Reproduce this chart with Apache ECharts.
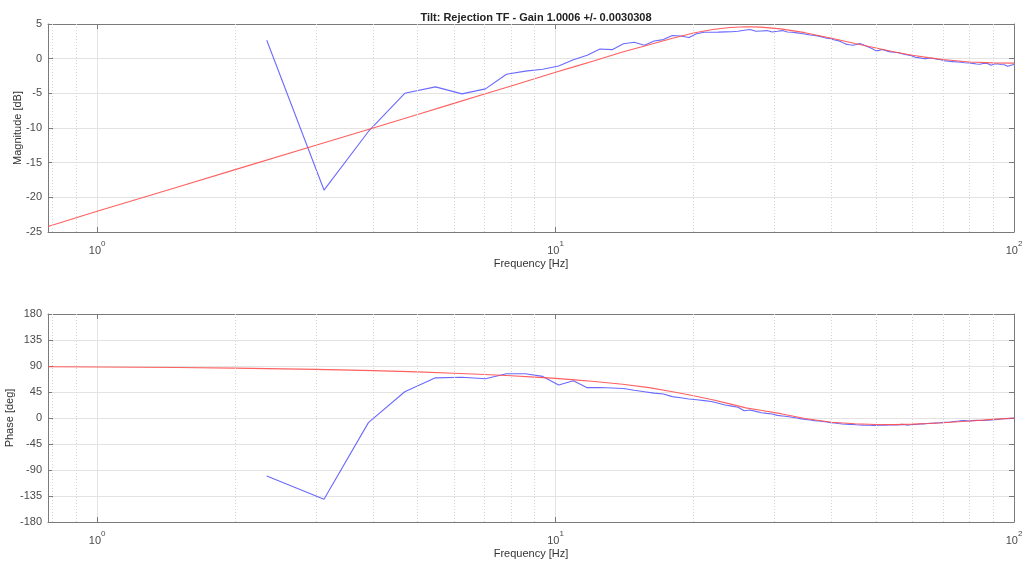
<!DOCTYPE html>
<html>
<head>
<meta charset="utf-8">
<script src="https://cdn.jsdelivr.net/npm/echarts@6/dist/echarts.min.js"></script>
<style>
  html, body { margin: 0; padding: 0; background: #fff; }
  #chart { width: 1025px; height: 562px; }
</style>
</head>
<body>
<div id="chart"></div>
<script>
// measured TF (blue), frequency bins in Hz
const measFreq = [
  2.344, 3.125, 3.906, 4.688, 5.469, 6.25, 7.031, 7.813, 8.594, 9.375,
  10.156, 10.938, 11.719, 12.5, 13.281, 14.063, 14.844, 15.625, 16.406, 17.188,
  17.969, 18.75, 19.531, 20.313, 21.094, 21.875, 22.656, 23.438, 24.219, 25.0,
  25.781, 26.563, 27.344, 28.125, 28.906, 29.688, 30.469, 31.25, 32.031, 32.813,
  33.594, 34.375, 35.156, 35.938, 36.719, 37.5, 38.281, 39.063, 39.844, 40.625,
  41.406, 42.188, 42.969, 43.75, 44.531, 45.313, 46.094, 46.875, 47.656, 48.438,
  49.219, 50.0, 50.781, 51.563, 52.344, 53.125, 53.906, 54.688, 55.469, 56.25,
  57.031, 57.813, 58.594, 59.375, 60.156, 60.938, 61.719, 62.5, 63.281, 64.063,
  64.844, 65.625, 66.406, 67.188, 67.969, 68.75, 69.531, 70.313, 71.094, 71.875,
  72.656, 73.438, 74.219, 75.0, 75.781, 76.563, 77.344, 78.125, 78.906, 79.688,
  80.469, 81.25, 82.031, 82.813, 83.594, 84.375, 85.156, 85.938, 86.719, 87.5,
  88.281, 89.063, 89.844, 90.625, 91.406, 92.188, 92.969, 93.75, 94.531, 95.313,
  96.094, 96.875, 97.656, 98.438, 99.219, 100.0
];
const measMag = [
  2.65, -18.95, -10.5, -5.0, -4.07, -5.08, -4.36, -2.25, -1.8, -1.52,
  -1.05, -0.15, 0.5, 1.4, 1.3, 2.15, 2.36, 1.93, 2.55, 2.75,
  3.35, 3.27, 3.05, 3.6, 3.8, 3.8, 3.83, 3.86, 3.88, 3.95,
  4.1, 4.2, 3.95, 4.0, 4.05, 3.85, 3.95, 4.05, 3.85, 3.8,
  3.72, 3.62, 3.52, 3.42, 3.35, 3.25, 3.1, 2.95, 2.88, 2.7,
  2.6, 2.35, 2.1, 2.0, 1.93, 2.05, 2.18, 2.0, 1.8, 1.6,
  1.4, 1.12, 1.2, 1.31, 1.2, 1.05, 0.97, 0.93, 0.88, 0.83,
  0.72, 0.6, 0.52, 0.48, 0.35, 0.2, 0.15, 0.1, 0.02, 0.0,
  0.03, 0.06, 0.05, -0.02, -0.08, -0.13, -0.2, -0.28, -0.33, -0.36,
  -0.4, -0.42, -0.44, -0.46, -0.47, -0.5, -0.55, -0.58, -0.6, -0.62,
  -0.63, -0.68, -0.72, -0.76, -0.8, -0.8, -0.72, -0.66, -0.62, -0.7,
  -0.85, -0.95, -0.88, -0.78, -0.75, -0.78, -0.82, -0.85, -0.85, -0.88,
  -0.98, -1.08, -1.05, -0.95, -0.88, -0.85
];
const measPhase = [
  -100.5, -140.5, -8, 45.5, 69.5, 70.5, 68, 76.5, 76.5, 72,
  57, 64.5, 52.5, 52.8, 52, 51, 48, 45.5, 43, 41.5,
  37, 35, 33, 31.5, 30, 28.5, 25.5, 22.5, 20.5, 18.5,
  12.5, 13.8, 11.5, 9.2, 8, 7, 4.5, 3.5, 2.5, 1.2,
  0, -1.5, -2.5, -3.5, -4.5, -5.2, -6, -7, -8, -8.5,
  -9.5, -10.3, -10.8, -11, -11.3, -11.8, -12, -12.3, -12.5, -12.6,
  -12.7, -12.7, -12.6, -12.5, -12.3, -12.2, -12.1, -12.1, -12, -11.5,
  -11, -11.8, -12.5, -11.8, -11.2, -11.2, -10.8, -10.5, -10.2, -10,
  -9.6, -9.2, -9, -8.8, -8.6, -8.2, -8, -7.6, -7.3, -7.4,
  -7, -6.5, -6, -5.6, -5.3, -4.8, -4.5, -4.6, -4.9, -5.2,
  -5, -4.6, -4.3, -4.1, -4, -4.2, -4.4, -4.3, -4, -3.6,
  -3.5, -3.3, -3, -2.8, -2.5, -2.3, -2.1, -1.8, -1.6, -1.4,
  -1.2, -1, -0.9, -0.7, -0.6, -0.5
];

// fitted model (red)
const modelFreq = [0.78125, 1, 1.5, 2, 3, 4, 5, 6, 7, 8, 9, 10, 11, 12, 14, 16, 18, 20, 22, 24,
  26, 28, 31, 35, 40, 45, 50, 55, 60, 65, 70, 80, 90, 100];
const modelMag = [-24.2, -22.0, -18.5, -16.0, -12.5, -10.0, -8.05, -6.45, -5.1, -3.95, -2.9, -1.95, -1.15, -0.4, 0.95, 2.0, 2.95, 3.7, 4.2, 4.5,
  4.6, 4.55, 4.3, 3.75, 2.95, 2.2, 1.55, 0.95, 0.5, 0.15, -0.13, -0.47, -0.6, -0.65];
const modelPhase = [88.8, 88.2, 87.3, 86.3, 84.2, 82.0, 79.8, 77.5, 75.2, 73.0, 70.8, 68.5, 66.0, 63.5, 58.5, 52.5, 45.5, 38.5, 31.5, 24.5,
  17.5, 13.5, 7.5, -1, -7.4, -10, -11.3, -11.5, -10.6, -9.5, -8.1, -5.2, -2.3, 0];

const minorTicks = [0.8, 0.9, 2, 3, 4, 5, 6, 7, 8, 9, 20, 30, 40, 50, 60, 70, 80, 90];

const FONT = 'Liberation Sans';
const AXIS_C = '#7a7a7a';
const GRID_C = '#e3e3e3';
const TXT_C = '#4a4a4a';

const pairs = (xs, ys) => xs.map((x, i) => [x, ys[i]]);

function logX(gi, pos, main) {
  return {
    type: 'log', logBase: 10, gridIndex: gi, position: pos,
    min: 0.78125, max: 100,
    name: main ? 'Frequency [Hz]' : '', nameLocation: 'middle', nameGap: 26,
    nameMoveOverlap: false,
    nameTextStyle: { color: '#333', fontSize: 11, fontFamily: FONT },
    axisLine: { show: true, onZero: false, lineStyle: { color: AXIS_C } },
    axisTick: { show: true, inside: true, length: 5, lineStyle: { color: AXIS_C } },
    splitLine: { show: main, lineStyle: { color: GRID_C } },
    axisLabel: {
      show: main, showMinLabel: false, margin: 8,
      color: TXT_C, fontFamily: FONT,
      formatter: v => {
        const e = Math.round(Math.log10(v));
        if (Math.abs(v / Math.pow(10, e) - 1) > 1e-6) return '';
        return '{b|10}{s|' + e + '}';
      },
      rich: {
        b: { fontSize: 11, color: TXT_C, fontFamily: FONT, lineHeight: 16, verticalAlign: 'bottom' },
        s: { fontSize: 8, color: TXT_C, fontFamily: FONT, lineHeight: 16, verticalAlign: 'top', padding: [0, 0, 6, 0] }
      }
    }
  };
}

function valY(gi, pos, main, min, max, step, name, gap) {
  return {
    type: 'value', gridIndex: gi, position: pos, min, max, interval: step,
    name: main ? name : '', nameLocation: 'middle', nameGap: gap,
    nameMoveOverlap: false,
    nameTextStyle: { color: '#333', fontSize: 11, fontFamily: FONT },
    axisLine: { show: true, lineStyle: { color: AXIS_C } },
    axisTick: { show: true, inside: true, length: 5, lineStyle: { color: AXIS_C } },
    splitLine: { show: main, lineStyle: { color: GRID_C } },
    axisLabel: { show: main, color: TXT_C, fontSize: 11, fontFamily: FONT, margin: 6 }
  };
}

function minorGrid() {
  return {
    silent: true, symbol: 'none', animation: false,
    label: { show: false },
    lineStyle: { color: '#d6d6d6', type: [1, 2], width: 1 },
    data: minorTicks.map(t => ({ xAxis: t }))
  };
}

function line(name, xi, yi, data, color, z, withGrid) {
  const s = {
    name, type: 'line', xAxisIndex: xi, yAxisIndex: yi, data,
    symbol: 'none', smooth: false, z,
    lineStyle: { color, width: 1.1, opacity: 0.9 }
  };
  if (withGrid) s.markLine = minorGrid();
  return s;
}

const chart = echarts.init(document.getElementById('chart'), null, { renderer: 'canvas' });
chart.setOption({
  animation: false,
  backgroundColor: '#fff',
  title: {
    text: 'Tilt: Rejection TF - Gain 1.0006 +/- 0.0030308',
    left: 531, top: 7, textAlign: 'center',
    textStyle: { fontSize: 11, fontWeight: 'bold', color: '#222', fontFamily: FONT }
  },
  grid: [
    { left: 48, right: 11, top: 24, height: 208, containLabel: false, outerBoundsMode: 'none' },
    { left: 48, right: 11, top: 314, height: 208, containLabel: false, outerBoundsMode: 'none' }
  ],
  xAxis: [logX(0, 'bottom', true), logX(0, 'top', false), logX(1, 'bottom', true), logX(1, 'top', false)],
  yAxis: [
    valY(0, 'left', true, -25, 5, 5, 'Magnitude [dB]', 25),
    valY(0, 'right', false, -25, 5, 5),
    valY(1, 'left', true, -180, 180, 45, 'Phase [deg]', 33),
    valY(1, 'right', false, -180, 180, 45)
  ],
  series: [
    line('meas mag', 0, 0, pairs(measFreq, measMag), '#5a5aff', 3, true),
    line('model mag', 0, 0, pairs(modelFreq, modelMag), '#ff4f4f', 4, false),
    line('meas phase', 2, 2, pairs(measFreq, measPhase), '#5a5aff', 3, true),
    line('model phase', 2, 2, pairs(modelFreq, modelPhase), '#ff4f4f', 4, false)
  ]
});
</script>
</body>
</html>
